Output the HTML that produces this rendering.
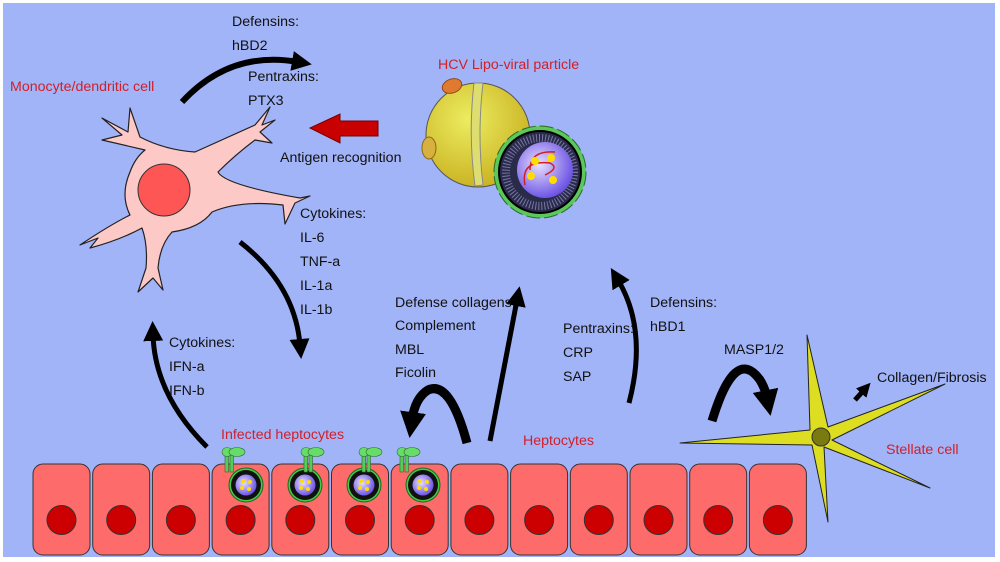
<!DOCTYPE html>
<html><head><meta charset="utf-8"><style>
html,body{margin:0;padding:0;background:#fff;width:1000px;height:562px;overflow:hidden}
svg{display:block}
text{font-family:"Liberation Sans",sans-serif;font-size:14.2px;fill:#111}
.r{fill:#d0202a}
</style></head><body>
<svg width="1000" height="562" viewBox="0 0 1000 562">
<defs>
<marker id="ah" viewBox="0 0 10 10" refX="3" refY="5" markerUnits="userSpaceOnUse" markerWidth="20" markerHeight="20" orient="auto"><path d="M0,0 L10,5 L0,10 z" fill="#000"/></marker>
<marker id="ahb" viewBox="0 0 10 10" refX="3" refY="5" markerUnits="userSpaceOnUse" markerWidth="26" markerHeight="26" orient="auto"><path d="M0,0 L10,5 L0,10 z" fill="#000"/></marker>
<marker id="ahs" viewBox="0 0 10 10" refX="3" refY="5" markerUnits="userSpaceOnUse" markerWidth="14" markerHeight="14" orient="auto"><path d="M0,0 L10,5 L0,10 z" fill="#000"/></marker>
<radialGradient id="yg" cx="0.4" cy="0.35" r="0.7"><stop offset="0" stop-color="#ecec60"/><stop offset="1" stop-color="#c8b020"/></radialGradient>
<radialGradient id="pg" cx="0.4" cy="0.4" r="0.7"><stop offset="0" stop-color="#e8e0ff"/><stop offset="1" stop-color="#5a40e0"/></radialGradient>
<g id="cell"><rect x="0" y="0" width="57" height="91" rx="10" fill="#fe6b6b" stroke="#333" stroke-width="1"/><circle cx="28.5" cy="56" r="14.5" fill="#cc0000" stroke="#333" stroke-width="1"/></g>
<g id="vir"><circle r="17" fill="#4c4" stroke="#262" stroke-width="1"/><circle r="15" fill="#111"/><circle r="10.5" fill="url(#pg)"/><circle cx="-3" cy="-4" r="2" fill="#fd0"/><circle cx="4" cy="-3" r="2" fill="#fd0"/><circle cx="-4" cy="3" r="2" fill="#fd0"/><circle cx="3" cy="4" r="2" fill="#fd0"/></g>
<g id="rec"><rect x="-5" y="-22" width="3.5" height="20" fill="#5c5" stroke="#363" stroke-width=".6"/><rect x="0" y="-20" width="3.5" height="18" fill="#5c5" stroke="#363" stroke-width=".6"/><ellipse cx="-3" cy="-22" rx="5" ry="4.5" fill="#6d6" stroke="#363" stroke-width=".6"/><ellipse cx="7" cy="-22" rx="8" ry="4.5" fill="#6d6" stroke="#363" stroke-width=".6"/></g>
</defs>
<rect x="3" y="3" width="992" height="554" fill="#a2b4f8"/>

<use href="#cell" x="33" y="464"/><use href="#cell" x="92.7" y="464"/><use href="#cell" x="152.4" y="464"/><use href="#cell" x="212.1" y="464"/><use href="#cell" x="271.8" y="464"/><use href="#cell" x="331.5" y="464"/><use href="#cell" x="391.2" y="464"/><use href="#cell" x="450.9" y="464"/><use href="#cell" x="510.6" y="464"/><use href="#cell" x="570.3" y="464"/><use href="#cell" x="630" y="464"/><use href="#cell" x="689.7" y="464"/><use href="#cell" x="749.4" y="464"/>
<use href="#vir" x="246" y="485"/><use href="#vir" x="305" y="485"/><use href="#vir" x="364" y="485"/><use href="#vir" x="423" y="485"/>
<use href="#rec" x="230" y="474"/><use href="#rec" x="309" y="474"/><use href="#rec" x="367" y="474"/><use href="#rec" x="405" y="474"/>

<path d="M102,118 L128,132 L130,108 L140,137 Q165,150 195,152 L255,125 L270,107 L262,125 L275,120 L260,132 L272,143 L255,140 Q235,155 218,172 Q225,185 300,198 L310,196 L295,203 L285,224 L283,205 Q240,200 212,212 Q200,228 172,232 Q160,245 158,268 L163,290 L153,278 L138,292 L146,268 Q148,245 142,228 Q120,240 90,248 L98,238 L80,245 Q110,225 130,215 Q120,195 130,172 Q135,158 145,150 L102,140 L122,135 Z" fill="#fdc9c7" stroke="#222" stroke-width="1.2" stroke-linejoin="round"/>
<circle cx="164" cy="190" r="26" fill="#fe5555" stroke="#333" stroke-width="1"/>

<circle cx="478" cy="135" r="52" fill="url(#yg)" stroke="#555" stroke-width="1"/>
<path d="M474,83 Q468,135 475,186 L483,185 Q477,135 483,83 Z" fill="#dede70" stroke="#888" stroke-width="1"/>
<ellipse cx="452" cy="86" rx="10" ry="7" fill="#e07a30" stroke="#8a4a10" transform="rotate(-20 452 86)"/>
<ellipse cx="429" cy="148" rx="7" ry="11" fill="#d8b040" stroke="#8a6a10"/>
<circle cx="540" cy="172" r="46" fill="#5ac85a" stroke="#2a6a2a" stroke-width="1" stroke-dasharray="14 4"/>
<circle cx="540" cy="172" r="41" fill="#2a2a4a" stroke="#000" stroke-width="2"/>
<circle cx="540" cy="172" r="34" fill="none" stroke="#7878a8" stroke-width="8" stroke-dasharray="1 2"/>
<circle cx="545" cy="170" r="28" fill="url(#pg)"/>
<path d="M525,185 Q520,160 550,163 Q560,168 545,175 M530,170 Q530,150 555,152" stroke="#d02020" stroke-width="1.5" fill="none"/>
<circle cx="531" cy="176" r="4" fill="#fd0"/><circle cx="553" cy="180" r="4" fill="#fd0"/><circle cx="535" cy="161" r="4" fill="#fd0"/><circle cx="551" cy="158" r="4" fill="#fd0"/>

<path d="M807,335 L828,427 L945,384 L832,440 L930,488 L824,447 L828,522 L812,445 L680,443 L810,430 Z" fill="#dddd22" stroke="#222" stroke-width="1" stroke-linejoin="round"/>
<circle cx="821" cy="437" r="9" fill="#7a7a10" stroke="#333"/>

<g fill="none" stroke="#000" stroke-linecap="butt">
<path d="M182,102 Q230,50 298,62" stroke-width="6" marker-end="url(#ah)"/>
<path d="M240,242 Q295,285 300,345" stroke-width="5" marker-end="url(#ah)"/>
<path d="M207,447 Q155,395 153,335" stroke-width="5" marker-end="url(#ah)"/>
<path d="M467,443 Q450,380 428,390 Q415,398 412,420" stroke-width="9" marker-end="url(#ahb)"/>
<path d="M490,441 L517,300" stroke-width="5" marker-end="url(#ah)"/>
<path d="M629,403 Q648,330 618,280" stroke-width="5" marker-end="url(#ah)"/>
<path d="M712,421 Q735,345 760,380 Q765,388 767,398" stroke-width="9" marker-end="url(#ahb)"/>
<path d="M855,400 L864,390" stroke-width="5" marker-end="url(#ahs)"/>
</g>
<path d="M378,121 L340,121 L340,114 L310,128 L340,143 L340,136 L378,136 Z" fill="#c80000" stroke="#700" stroke-width="1"/>

<text class="r" x="10" y="91">Monocyte/dendritic cell</text>
<text x="232" y="26">Defensins:</text>
<text x="232" y="50">hBD2</text>
<text x="248" y="81">Pentraxins:</text>
<text x="248" y="105">PTX3</text>
<text x="280" y="162">Antigen recognition</text>
<text class="r" x="438" y="69">HCV Lipo-viral particle</text>
<text x="300" y="218">Cytokines:</text>
<text x="300" y="242">IL-6</text>
<text x="300" y="266">TNF-a</text>
<text x="300" y="290">IL-1a</text>
<text x="300" y="314">IL-1b</text>
<text x="169" y="347">Cytokines:</text>
<text x="169" y="371">IFN-a</text>
<text x="169" y="395">IFN-b</text>
<text class="r" x="221" y="439">Infected heptocytes</text>
<text x="395" y="307">Defense collagens:</text>
<text x="395" y="330">Complement</text>
<text x="395" y="354">MBL</text>
<text x="395" y="377">Ficolin</text>
<text class="r" x="523" y="445">Heptocytes</text>
<text x="563" y="333">Pentraxins:</text>
<text x="563" y="357">CRP</text>
<text x="563" y="381">SAP</text>
<text x="650" y="307">Defensins:</text>
<text x="650" y="331">hBD1</text>
<text x="724" y="354">MASP1/2</text>
<text x="877" y="382">Collagen/Fibrosis</text>
<text class="r" x="886" y="454">Stellate cell</text>
</svg>
</body></html>
